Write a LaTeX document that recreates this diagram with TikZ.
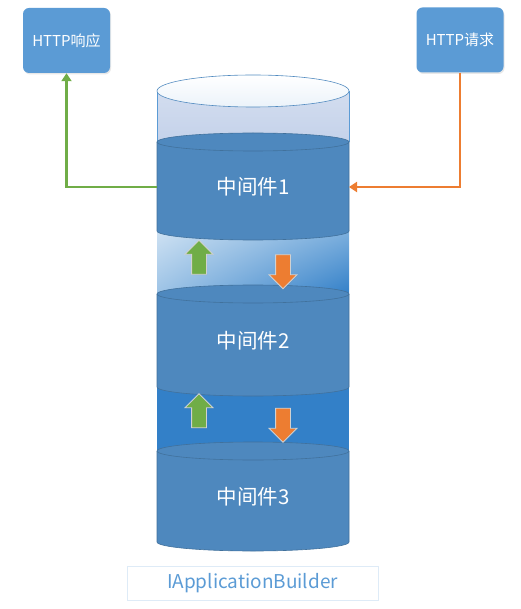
\documentclass[tikz,border=0pt]{standalone}
\usepackage{fontspec}
\usepackage{tikz}
\usetikzlibrary{positioning,arrows.meta,shapes.arrows,shadows,shadings}
\newfontfamily\cjk{Noto Sans CJK SC}
\definecolor{boxblue}{HTML}{5B9BD5}
\definecolor{layerblue}{HTML}{4E88BE}
\definecolor{edgeblue}{HTML}{41719C}
\definecolor{gapblue}{HTML}{3380C8}
\definecolor{emptytop}{HTML}{D3DDEF}
\definecolor{emptybot}{HTML}{C4D2EA}
\definecolor{respgreen}{HTML}{70AD47}
\definecolor{reqorange}{HTML}{ED7D31}

\tikzset{
    msgbox/.style={rectangle, rounded corners=6pt, fill=boxblue, text=white,
        minimum width=87pt, minimum height=65pt, font=\cjk\fontsize{15}{17}\selectfont,
        drop shadow={opacity=0.18, shadow xshift=1pt, shadow yshift=-1.5pt}},
    mwtext/.style={text=white, font=\cjk\fontsize{20.5}{22}\selectfont},
    layer/.style={fill=layerblue},
    layeredge/.style={draw=edgeblue, line width=0.6pt},
    flow/.style={line width=2.3pt, -{Triangle[length=8pt,width=10pt]}},
    blockarr/.style={single arrow, draw=black!18, line width=0.8pt, inner sep=7pt,
        minimum height=34pt, single arrow head extend=6.5pt, single arrow head indent=0pt,
        drop shadow={opacity=0.15, shadow xshift=0.8pt, shadow yshift=-0.8pt}},
    builder/.style={draw=boxblue!20, line width=0.8pt, text=boxblue,
        minimum width=251pt, minimum height=34pt, font=\cjk\fontsize{19}{21}\selectfont}
}

\begin{document}
\begin{tikzpicture}[x=1pt,y=-1pt]
    \useasboundingbox (0,0) rectangle (520,609);
    \node[msgbox] (resp) at (66.5,40.5) {HTTP响应};
    \node[msgbox] (req) at (460,40) {HTTP请求};

    \shade[top color=emptytop, bottom color=emptybot] (157,91) rectangle (349,142);
    \draw[draw=boxblue, line width=0.6pt] (157,91) -- (157,142) (349,91) -- (349,142);
    \shade[upper left=boxblue!30!white, upper right=boxblue!80!white, lower left=boxblue!60!white, lower right=gapblue] (157,231) rectangle (349,294);
    \fill[gapblue] (157,387) rectangle (349,451);

    \foreach \t/\b/\n in {142/231/1, 294/387/2, 451/542/3} {
        \fill[layer] (157,\t) -- (157,\b) arc[start angle=180, end angle=0, x radius=96, y radius=9]
            -- (349,\t) arc[start angle=0, end angle=-180, x radius=96, y radius=9] -- cycle;
        \draw[layeredge] (253,\t) ellipse[x radius=96, y radius=9];
        \draw[layeredge] (157,\t) -- (157,\b) arc[start angle=180, end angle=0, x radius=96, y radius=9] -- (349,\t);
        \node[mwtext] (m\n) at (253,{(\t+\b)/2}) {中间件\n};
    }

    \shade[draw=boxblue!90!black, line width=0.6pt, top color=white, bottom color=boxblue!12!white] (253,91) ellipse[x radius=96, y radius=16];

    \node[blockarr, fill=respgreen, rotate=90] (up1) at (199,261) {};
    \node[blockarr, fill=reqorange, rotate=-90] (down1) at (283,268) {};
    \node[blockarr, fill=respgreen, rotate=90] (up2) at (199,414.5) {};
    \node[blockarr, fill=reqorange, rotate=-90] (down2) at (283,421.5) {};

    \coordinate (cylw) at (157,187);
    \coordinate (cyle) at (349,187);
    \draw[flow, respgreen] (cylw) -| (resp.south);
    \draw[flow, reqorange] (req.south) |- (cyle);

    \node[builder] (app) at (252.5,583) {IApplicationBuilder};
\end{tikzpicture}
\end{document}
